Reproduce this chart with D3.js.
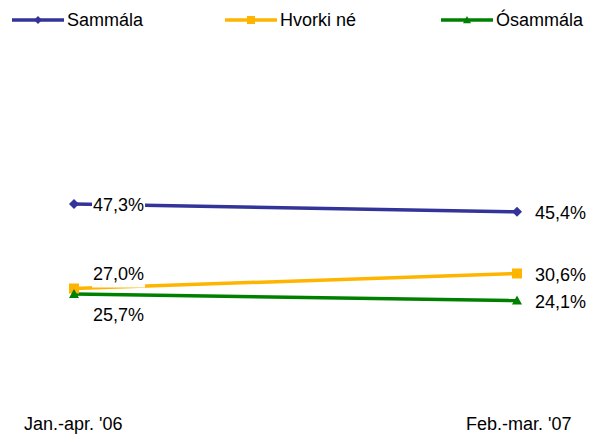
<!DOCTYPE html>
<html>
<head>
<script src="https://d3js.org/d3.v7.min.js"></script>
<style>
  body { margin: 0; background: white; }
  text { font-family: Arial, "Liberation Sans", sans-serif; font-size: 18px; fill: #000; }
</style>
</head>
<body>
<svg width="589" height="442"></svg>
<script>
const periods = ["Jan.-apr. '06", "Feb.-mar. '07"];
const seriesNames = ["Sammála", "Hvorki né", "Ósammála"];
const sammala = [47.3, 45.4];
const hvorki = [27.0, 30.6];
const osammala = [25.7, 24.1];
const colors = ["#333399", "#FFB400", "#008000"];
const symbols = ["diamond", "square", "triangle"];
// where the first label sits relative to its point: 0 on it, -1 above, 1 below
const leftLabelPos = [0, -1, 1];

const series = seriesNames.map((name, i) => ({
  name, color: colors[i], symbol: symbols[i], pos: leftLabelPos[i],
  values: [sammala, hvorki, osammala][i]
}));

const svg = d3.select("svg");
const x = d3.scalePoint().domain(periods).range([74, 517]);
const y = d3.scaleLinear().domain([0, 60]).range([401, 151]);
const fmt = v => d3.format(".1f")(v).replace(".", ",") + "%";

// marker shapes, r = half width
function marker(type, r) {
  if (type === "diamond") return `M0,${-r}L${r},0L0,${r}L${-r},0Z`;
  if (type === "square") return `M${-r},${-r}H${r}V${r}H${-r}Z`;
  return `M0,${-r}L${r},${r * 0.8}L${-r},${r * 0.8}Z`;
}

const line = d3.line().x((d, i) => x(periods[i])).y(d => y(d));

// lines
series.forEach(s => {
  svg.append("path")
    .datum(s.values)
    .attr("d", line)
    .attr("fill", "none")
    .attr("stroke", s.color)
    .attr("stroke-width", 3.5);
});

// markers
series.forEach(s => {
  svg.selectAll(null)
    .data(s.values)
    .enter().append("path")
    .attr("transform", (d, i) => `translate(${x(periods[i])},${y(d)})`)
    .attr("d", marker(s.symbol, 5))
    .attr("fill", s.color);
});

// left labels with white box
series.forEach(s => {
  const px = x(periods[0]) + 19, py = y(s.values[0]);
  const g = svg.append("g");
  const t = g.append("text")
    .attr("x", px)
    .attr("y", py + 7 + s.pos * 15 + (s.pos > 0 ? 5 : 0) - (s.pos < 0 ? 1 : 0))
    .text(fmt(s.values[0]));
  const b = t.node().getBBox();
  g.insert("rect", "text")
    .attr("x", b.x - 1)
    .attr("y", s.pos > 0 ? b.y - 4 : b.y)
    .attr("width", b.width + 2)
    .attr("height", b.height + 4)
    .attr("fill", "white");
});

// right labels
series.forEach(s => {
  svg.append("text")
    .attr("x", x(periods[1]) + 18)
    .attr("y", y(s.values[1]) + 7)
    .text(fmt(s.values[1]));
});

// category labels
svg.selectAll(".cat")
  .data(periods)
  .enter().append("text")
  .attr("class", "cat")
  .attr("x", (d, i) => i === 0 ? 24 : 466)
  .attr("y", 430)
  .text(d => d);

// legend
const legX = [12, 225, 441];
series.forEach((s, i) => {
  const g = svg.append("g").attr("transform", `translate(${legX[i]},20)`);
  g.append("line").attr("x1", 0).attr("x2", 52)
    .attr("stroke", s.color).attr("stroke-width", 3.5);
  g.append("path")
    .attr("transform", "translate(26,0)")
    .attr("d", marker(s.symbol, 4))
    .attr("fill", s.color);
  g.append("text").attr("x", 55).attr("y", 6).text(s.name);
});
</script>
</body>
</html>
